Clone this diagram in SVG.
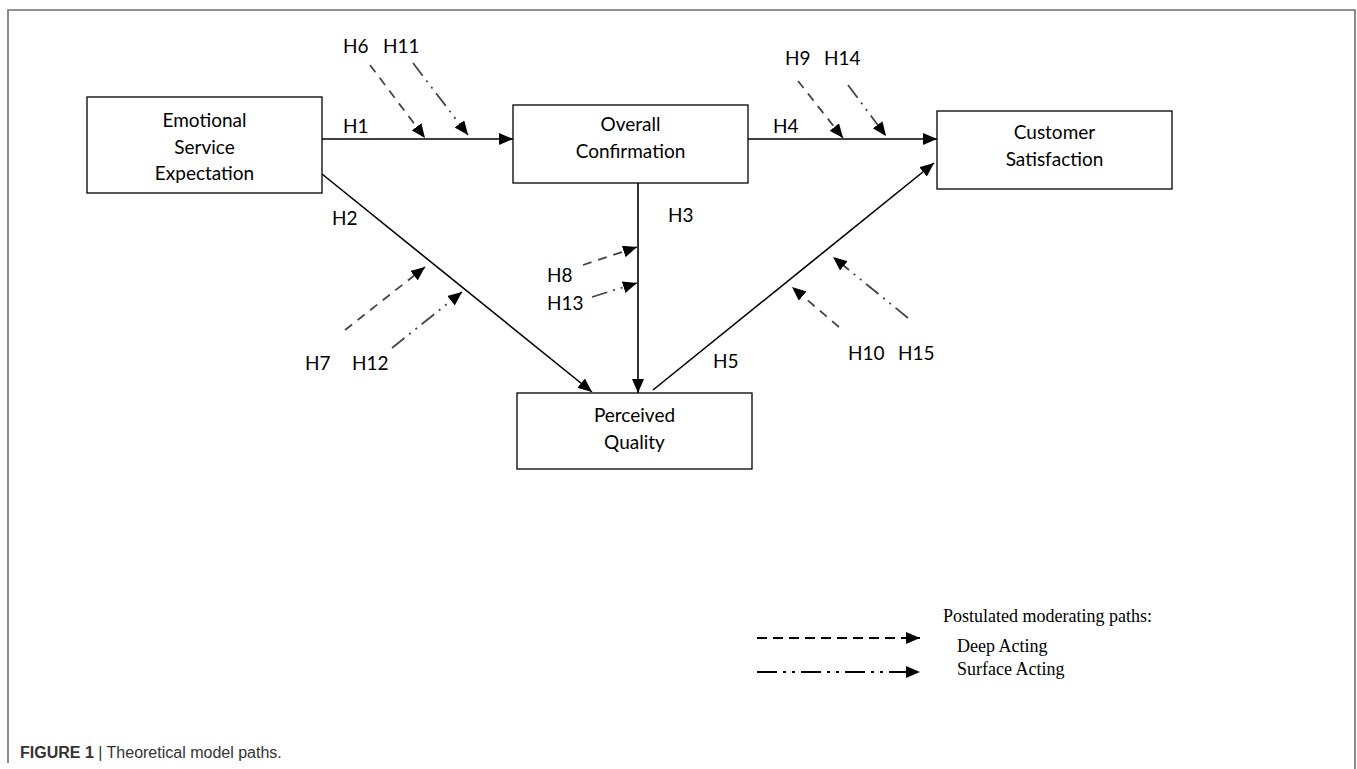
<svg xmlns="http://www.w3.org/2000/svg" width="1357" height="769" viewBox="0 0 1357 769">
<defs>
<marker id="ah" markerUnits="userSpaceOnUse" markerWidth="14" markerHeight="12" viewBox="0 0 14 12" refX="14" refY="6" orient="auto">
<path d="M0,0 L14,6 L0,12 Z" fill="#000"/>
</marker>
</defs>
<style>
.box{fill:#fff;stroke:#000;stroke-width:1.3}
.nt{font-family:Lato,"Open Sans",sans-serif;font-size:19px;fill:#000;text-anchor:middle}
.lb{font-family:Lato,"Open Sans",sans-serif;font-size:19px;fill:#000}
.main{stroke:#000;stroke-width:1.6;fill:none}
.deep{stroke:#444;stroke-width:1.8;fill:none;stroke-dasharray:9 7}
.surf{stroke:#444;stroke-width:1.8;fill:none;stroke-dasharray:16 6 2 6 2 6}
.leg{font-family:"Liberation Serif",serif;font-size:18px;fill:#000}
</style>
<rect width="1357" height="769" fill="#fff"/>
<path d="M8,763 V10 H1355 V769" fill="none" stroke="#6e6e6e" stroke-width="1.6"/>

<g id="connectors">
<line class="main" x1="322" y1="139" x2="513" y2="139" marker-end="url(#ah)"/>
<line class="main" x1="322" y1="174" x2="592" y2="392" marker-end="url(#ah)"/>
<line class="main" x1="638" y1="183" x2="638" y2="393" marker-end="url(#ah)"/>
<line class="main" x1="748" y1="139" x2="937" y2="139" marker-end="url(#ah)"/>
<line class="main" x1="653" y1="390" x2="934" y2="163" marker-end="url(#ah)"/>
<line class="deep" x1="370" y1="65" x2="425" y2="138" marker-end="url(#ah)"/>
<line class="surf" x1="413" y1="63" x2="468" y2="135" marker-end="url(#ah)"/>
<line class="deep" x1="798" y1="81" x2="843" y2="138" marker-end="url(#ah)"/>
<line class="surf" x1="848" y1="85" x2="886" y2="136" marker-end="url(#ah)"/>
<line class="deep" x1="345" y1="330" x2="425" y2="267" marker-end="url(#ah)"/>
<line class="surf" x1="392" y1="348" x2="462" y2="292" marker-end="url(#ah)"/>
<line class="deep" x1="583" y1="265" x2="637" y2="247" marker-end="url(#ah)"/>
<line class="surf" x1="592" y1="297" x2="637" y2="283" marker-end="url(#ah)"/>
<line class="deep" x1="839" y1="327" x2="792" y2="287" marker-end="url(#ah)"/>
<line class="surf" x1="908" y1="318" x2="833" y2="257" marker-end="url(#ah)"/>
</g>

<g id="node-ese">
<rect class="box" x="87" y="97" width="235" height="96"/>
<text class="nt" x="204.5" y="127">Emotional</text>
<text class="nt" x="204.5" y="154">Service</text>
<text class="nt" x="204.5" y="180">Expectation</text>
</g>
<g id="node-oc">
<rect class="box" x="513" y="105" width="235" height="78"/>
<text class="nt" x="630.5" y="131">Overall</text>
<text class="nt" x="630.5" y="158">Confirmation</text>
</g>
<g id="node-cs">
<rect class="box" x="937" y="111" width="235" height="78"/>
<text class="nt" x="1054.5" y="139">Customer</text>
<text class="nt" x="1054.5" y="166">Satisfaction</text>
</g>
<g id="node-pq">
<rect class="box" x="517" y="393" width="235" height="76"/>
<text class="nt" x="634.5" y="422">Perceived</text>
<text class="nt" x="634.5" y="449">Quality</text>
</g>

<g id="labels">
<text class="lb" x="343" y="133">H1</text>
<text class="lb" x="332" y="225">H2</text>
<text class="lb" x="668" y="222">H3</text>
<text class="lb" x="773" y="133">H4</text>
<text class="lb" x="713" y="368">H5</text>
<text class="lb" x="343" y="53">H6</text>
<text class="lb" x="383" y="53">H11</text>
<text class="lb" x="785" y="65">H9</text>
<text class="lb" x="824" y="65">H14</text>
<text class="lb" x="305" y="370">H7</text>
<text class="lb" x="352" y="370">H12</text>
<text class="lb" x="547" y="282">H8</text>
<text class="lb" x="547" y="310">H13</text>
<text class="lb" x="848" y="360">H10</text>
<text class="lb" x="898" y="360">H15</text>
</g>

<g id="legend">
<text class="leg" x="943" y="622">Postulated moderating paths:</text>
<text class="leg" x="957" y="652">Deep Acting</text>
<text class="leg" x="957" y="675">Surface Acting</text>
<line x1="757" y1="638" x2="920" y2="638" stroke="#000" stroke-width="2.2" stroke-dasharray="10 6" marker-end="url(#ah)"/>
<line x1="757" y1="672" x2="920" y2="672" stroke="#000" stroke-width="2.2" stroke-dasharray="20 6 3 6 3 6" marker-end="url(#ah)"/>
</g>

<text x="20" y="758" font-family="'Liberation Sans',Arial,sans-serif" font-size="16" fill="#333"><tspan font-weight="bold">FIGURE 1</tspan> | Theoretical model paths.</text>
</svg>
